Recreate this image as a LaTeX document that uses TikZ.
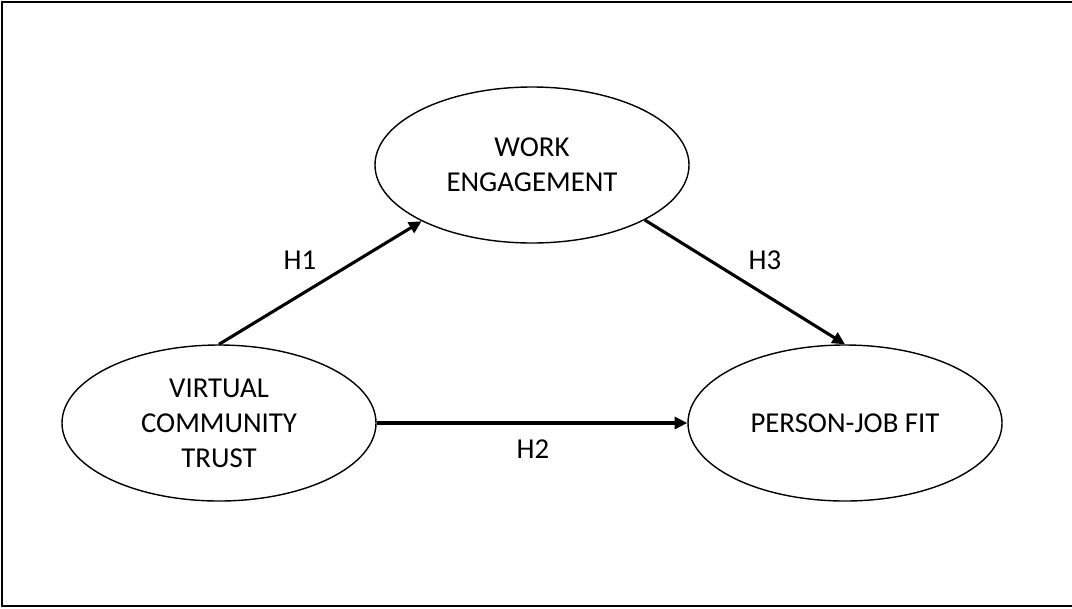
\documentclass[tikz,border=0pt]{standalone}
\usepackage{fontspec}
\setmainfont{Carlito}
\usepackage{tikz}
\usetikzlibrary{arrows,arrows.meta,shapes,positioning}
\tikzstyle{arrow} = [line width=2.2pt,->,>={Triangle[length=9pt,width=8.5pt]},color=black]
\tikzstyle{construct} = [ellipse, minimum width=7.85cm, minimum height=3.9cm, inner sep=0pt, text centered, align=center, draw=black, line width=1pt, font=\fontsize{20.5}{25}\selectfont]
\tikzstyle{hyp} = [font=\fontsize{20.5}{25}\selectfont, inner sep=0pt]

\begin{document}
\begin{tikzpicture}
\useasboundingbox (0,0) rectangle (26.8,-15.2);
% Frame
\draw[line width=1.4pt] (26.8,-0.04) -- (0.04,-0.04) -- (0.04,-15.16) -- (26.8,-15.16);

% Constructs
\node (work) [construct] at (13.3,-4.125) {WORK\\ENGAGEMENT};
\node (trust) [construct, on grid, below left=6.45cm and 7.825cm of work] {VIRTUAL\\COMMUNITY\\TRUST};
\node (fit) [construct, on grid, right=15.65cm of trust] {PERSON-JOB FIT};

% Hypotheses
\draw[arrow] (trust.north) -- (work.207);
\draw[arrow] (trust.east) -- (fit.west);
\draw[arrow] (work.334) -- (fit.north);

\node (h1) [hyp] at (7.5,-6.5) {H1};
\node (h2) [hyp] at (13.325,-11.225) {H2};
\node (h3) [hyp] at (19.125,-6.5) {H3};
\end{tikzpicture}
\end{document}
